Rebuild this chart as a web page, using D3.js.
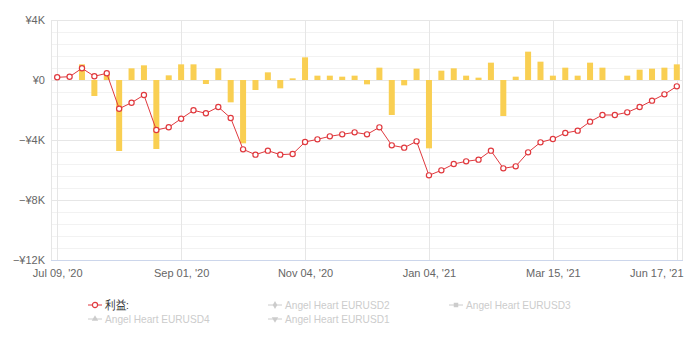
<!DOCTYPE html>
<html>
<head>
<meta charset="utf-8">
<script src="https://cdn.jsdelivr.net/npm/d3@7"></script>
<style>
  html, body { margin: 0; padding: 0; background: #fff; }
  svg { display: block; font-family: "Liberation Sans", Arial, sans-serif; }
</style>
</head>
<body>
<svg id="chart" width="689" height="346"></svg>
<script>
// Cumulative profit per week (line) and weekly result (columns), in yen
const profit = [180, 220, 780, 247, 447, -1913, -1513, -1000, -3333, -3153,
  -2580, -2020, -2220, -1800, -2533, -4622, -4978, -4711, -4978, -4933,
  -4133, -3956, -3756, -3622, -3489, -3622, -3156, -4356, -4511, -4089,
  -6356, -6022, -5600, -5422, -5311, -4711, -5889, -5756, -4822, -4156,
  -3933, -3533, -3378, -2778, -2333, -2333, -2156, -1800, -1378, -956, -422];
const weekly = [0, 0, 1044, -1067, 400, -4733, 778, 978, -4600, 311,
  1044, 1044, -267, 778, -1489, -4222, -667, 511, -556, 111,
  1511, 289, 289, 222, 289, -289, 822, -2333, -356, 756,
  -4556, 622, 778, 289, 156, 1156, -2400, 222, 1889, 1222,
  289, 822, 289, 1156, 822, 0, 289, 689, 756, 822, 1044];
// Category labels shown on the x axis (every tenth week)
const tickIndex = [0, 10, 20, 30, 40, 50];
const tickLabels = ["Jul 09, '20", "Sep 01, '20", "Nov 04, '20", "Jan 04, '21", "Mar 15, '21", "Jun 17, '21"];
const yTicks = [4000, 0, -4000, -8000, -12000];
const legendItems = [
  { name: "利益:", symbol: "circle", active: true },
  { name: "Angel Heart EURUSD2", symbol: "diamond", active: false },
  { name: "Angel Heart EURUSD3", symbol: "square", active: false },
  { name: "Angel Heart EURUSD4", symbol: "triangle", active: false },
  { name: "Angel Heart EURUSD1", symbol: "triangle-down", active: false }
];

const svg = d3.select("#chart");
const plot = { left: 51, right: 683, top: 20, bottom: 260 };

const x = d3.scalePoint()
  .domain(d3.range(profit.length))
  .range([plot.left, plot.right])
  .padding(0.5);
const y = d3.scaleLinear().domain([-12000, 4000]).range([plot.bottom, plot.top]);

const fmt = v => v === 0 ? "¥0" : (v < 0 ? "−" : "") + "¥" + Math.abs(v / 1000) + "K";

// minor grid lines
const minor = d3.range(-12000, 4001, 800).filter(v => v % 4000 !== 0);
svg.append("g").selectAll("line").data(minor).join("line")
  .attr("x1", plot.left).attr("x2", plot.right)
  .attr("y1", d => y(d) + 0.5).attr("y2", d => y(d) + 0.5)
  .attr("stroke", "#f2f2f2").attr("stroke-width", 1);

// major grid lines
svg.append("g").selectAll("line").data(yTicks).join("line")
  .attr("x1", plot.left).attr("x2", plot.right)
  .attr("y1", d => y(d) + 0.5).attr("y2", d => y(d) + 0.5)
  .attr("stroke", "#e6e6e6").attr("stroke-width", 1);

// vertical grid lines at labelled weeks
svg.append("g").selectAll("line").data(tickIndex).join("line")
  .attr("x1", d => Math.round(x(d)) + 0.5).attr("x2", d => Math.round(x(d)) + 0.5)
  .attr("y1", plot.top).attr("y2", plot.bottom)
  .attr("stroke", "#e6e6e6").attr("stroke-width", 1);

// plot frame sides
svg.append("line").attr("x1", plot.left + 0.5).attr("x2", plot.left + 0.5)
  .attr("y1", plot.top).attr("y2", plot.bottom).attr("stroke", "#e6e6e6");
svg.append("line").attr("x1", plot.right - 0.5).attr("x2", plot.right - 0.5)
  .attr("y1", plot.top).attr("y2", plot.bottom).attr("stroke", "#e6e6e6");

// y axis labels
const yAxis = svg.append("g")
  .attr("transform", `translate(${plot.left - 6},0)`)
  .call(d3.axisLeft(y).tickValues(yTicks).tickFormat(fmt).tickSize(0).tickPadding(0));
yAxis.select(".domain").remove();
yAxis.selectAll("text").attr("fill", "#666").attr("font-size", 11)
  .attr("font-family", "'Liberation Sans', Arial, sans-serif");

// x axis
const xAxis = svg.append("g")
  .attr("transform", `translate(0,${plot.bottom})`)
  .call(d3.axisBottom(x).tickValues(tickIndex)
    .tickFormat((d, i) => tickLabels[i]).tickSize(0).tickPadding(9));
xAxis.select(".domain").attr("stroke", "#ccd6eb").attr("d", `M${plot.left},0.5H${plot.right}`);
xAxis.selectAll("text").attr("fill", "#666").attr("font-size", 11)
  .attr("font-family", "'Liberation Sans', Arial, sans-serif");
// keep the last label inside the chart edge
xAxis.selectAll(".tick").filter(d => d === tickIndex[tickIndex.length - 1])
  .select("text").attr("text-anchor", "end").attr("x", plot.right - x(tickIndex[tickIndex.length - 1]));

// weekly columns
const barW = 6;
svg.append("g").selectAll("rect").data(weekly).join("rect")
  .attr("x", (d, i) => x(i) - barW / 2)
  .attr("y", d => y(Math.max(0, d)))
  .attr("width", barW)
  .attr("height", d => Math.abs(y(d) - y(0)))
  .attr("fill", "#f9cf52");

// cumulative profit line
const line = d3.line().x((d, i) => x(i)).y(d => y(d));
svg.append("path").datum(profit)
  .attr("d", line).attr("fill", "none")
  .attr("stroke", "#e0393e").attr("stroke-width", 1);
svg.append("g").selectAll("circle").data(profit).join("circle")
  .attr("cx", (d, i) => x(i)).attr("cy", d => y(d)).attr("r", 2.6)
  .attr("fill", "#fff").attr("stroke", "#e0393e").attr("stroke-width", 1.2);

// legend
const legendPos = [[88, 305], [268, 305], [449, 305], [88, 319], [268, 319]];
const symbolType = {
  "circle": d3.symbolCircle, "diamond": d3.symbolDiamond, "square": d3.symbolSquare,
  "triangle": d3.symbolTriangle, "triangle-down": d3.symbolTriangle
};
const lg = svg.append("g").selectAll("g").data(legendItems).join("g")
  .attr("transform", (d, i) => `translate(${legendPos[i][0]},${legendPos[i][1]})`);
lg.append("line").attr("x1", 0).attr("x2", 14).attr("y1", 0).attr("y2", 0)
  .attr("stroke", d => d.active ? "#e0393e" : "#ccc").attr("stroke-width", 1);
lg.each(function (d) {
  const g = d3.select(this);
  if (d.symbol === "circle") {
    g.append("circle").attr("cx", 7).attr("cy", 0).attr("r", 2.6)
      .attr("fill", "#fff").attr("stroke", "#e0393e").attr("stroke-width", 1.2);
  } else {
    g.append("path")
      .attr("d", d3.symbol().type(symbolType[d.symbol]).size(d.symbol === "square" ? 20 : 18))
      .attr("transform", `translate(7,0)${d.symbol === "triangle-down" ? " rotate(180)" : ""}`)
      .attr("fill", "#ccc");
  }
});
lg.append("text").attr("x", 17).attr("y", 0).attr("dy", "0.35em")
  .attr("font-size", 11.5)
  .attr("font-family", "'Liberation Sans', Arial, sans-serif")
  .attr("fill", d => d.active ? "#333" : "#ccc")
  .text(d => d.name)
  .each(function () {
    // the legend face is narrower than Liberation Sans
    const w = this.getComputedTextLength();
    d3.select(this).attr("textLength", w * 0.88).attr("lengthAdjust", "spacingAndGlyphs");
  });
</script>
</body>
</html>
